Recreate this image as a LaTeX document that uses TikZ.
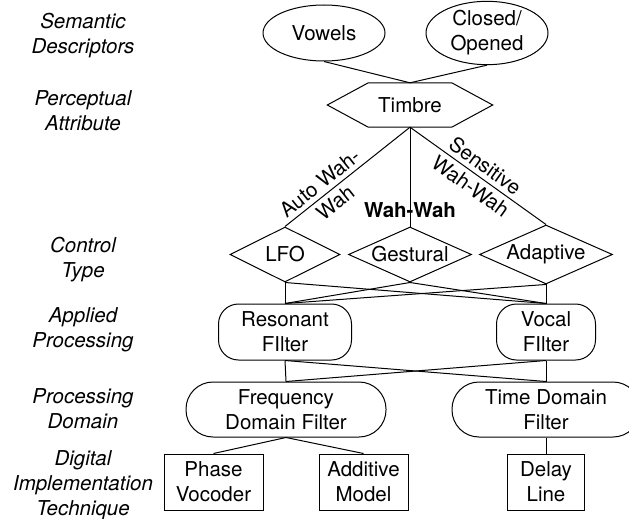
\documentclass[tikz,border=0pt]{standalone}
\usepackage{fontspec}
\setmainfont{TeX Gyre Heros}
\usetikzlibrary{shapes.geometric}

\tikzset{
	every node/.style = {font=\fontsize{20.5}{25}\selectfont, inner sep=0pt, align=center},
	line/.style = {draw, line width=1pt},
	descr/.style = {ellipse, draw, line width=1pt, minimum width=122pt, minimum height=56pt},
	attr/.style = {minimum width=165pt, minimum height=44pt},
	ctrl/.style = {diamond, draw, line width=1pt, aspect=2, minimum height=55pt},
	proc/.style = {rectangle, rounded corners=20pt, draw, line width=1pt, minimum height=56pt},
	dombox/.style = {rectangle, rounded corners=27pt, draw, line width=1pt, minimum height=55pt},
	impl/.style = {rectangle, draw, line width=1pt, minimum height=56pt},
	level/.style = {font=\fontsize{20.5}{25}\selectfont\itshape}
}

\begin{document}
\begin{tikzpicture}[x=1pt, y=-1pt]
			\useasboundingbox (0,0) rectangle (629,519);
			
			% levels
			\node [level] (lvlsem) at (83,35.5) {Semantic\\Descriptors};
			\node [level] (lvlper) at (83,110.5) {Perceptual\\Attribute};
			\node [level] (lvlctl) at (83,259.5) {Control\\Type};
			\node [level] (lvlapp) at (83,329.5) {Applied\\Processing};
			\node [level] (lvldom) at (83,408.5) {Processing\\Domain};
			\node [level] (lvlimp) at (83,485) {Digital\\Implementation\\Technique};
			
			% nodes
			\node [descr] (vowels) at (324,33) {Vowels};
			\node [descr] (closed) at (487,33) {Closed/\\Opened};
			\node [attr] (timbre) at (410,105) {Timbre};
			\draw [line] (timbre.west) -- ([xshift=41pt]timbre.north west) -- ([xshift=-41pt]timbre.north east) -- (timbre.east) -- ([xshift=-41pt]timbre.south east) -- ([xshift=41pt]timbre.south west) -- cycle;
			\node [ctrl, minimum width=110pt] (lfo) at (285,254.5) {LFO};
			\node [ctrl, minimum width=123pt] (gest) at (410,254.5) {Gestural};
			\node [ctrl, minimum width=133pt] (adapt) at (546,254.5) {Adaptive};
			\node [proc, minimum width=133pt] (res) at (285,332) {Resonant\\FIlter};
			\node [proc, minimum width=99pt] (voc) at (546,332) {Vocal\\FIlter};
			\node [dombox, minimum width=200pt] (freq) at (286,409.5) {Frequency\\Domain Filter};
			\node [dombox, minimum width=188pt] (time) at (546,409.5) {Time Domain\\Filter};
			\node [impl, minimum width=99pt] (phase) at (213.5,482) {Phase\\Vocoder};
			\node [impl, minimum width=89pt] (add) at (363.5,482) {Additive\\Model};
			\node [impl, minimum width=77pt] (delay) at (546,482) {Delay\\Line};
			
			% connectors
			\path [line] (vowels.south) -- (timbre.north);
			\path [line] (closed.south) -- (timbre.north);
			\path [line] (timbre.south) -- (lfo.north) node [pos=0.66, sloped] {Auto Wah-\\Wah};
			\path [line] (timbre.south) -- (gest.north) node [pos=0.83, font=\fontsize{20.5}{25}\selectfont\bfseries] {Wah-Wah};
			\path [line] (timbre.south) -- (adapt.north) node [pos=0.5, sloped] {Sensitive\\Wah-Wah};
			\foreach \c in {lfo, gest, adapt}
				\foreach \p in {res, voc}
					\path [line] (\c.south) -- (\p.north);
			\foreach \p in {res, voc}
				\foreach \d in {freq, time}
					\path [line] (\p.south) -- (\d.north);
			\path [line] (freq.south) -- (phase.north);
			\path [line] (freq.south) -- (add.north);
			\path [line] (time.south) -- (delay.north);
		\end{tikzpicture}
\end{document}
